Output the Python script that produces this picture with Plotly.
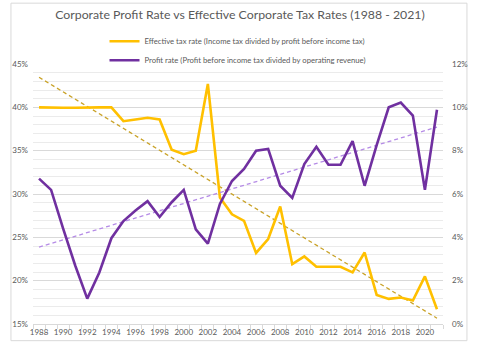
import numpy as np
import plotly.graph_objects as go

years = list(range(1988, 2022))
tax_rate = [40.0, 39.95, 39.95, 39.95, 40.0, 40.0, 40.0, 38.4, 38.6, 38.8, 38.6,
            35.1, 34.6, 35.0, 42.7, 29.6, 27.65, 26.9, 23.2, 24.8, 28.55,
            21.9, 22.8, 21.6, 21.6, 21.6, 20.96, 23.25, 18.36, 17.9, 18.06,
            17.7, 20.5, 16.7]
profit_rate = [6.71, 6.19, 4.4, 2.7, 1.17, 2.38, 3.96, 4.75, 5.24, 5.67, 4.94,
               5.62, 6.19, 4.37, 3.71, 5.54, 6.6, 7.16, 8.0, 8.08, 6.38,
               5.82, 7.38, 8.18, 7.35, 7.35, 8.44, 6.38, 8.26, 10.0, 10.22,
               9.62, 6.19, 9.89]
tax_name = "Effective tax rate (Income tax divided by profit before income tax)"
profit_name = "Profit rate (Profit before income tax divided by operating revenue)"
title_text = "Corporate Profit Rate vs Effective Corporate Tax Rates (1988 - 2021)"

yrs = np.array(years, dtype=float)
tax_fit = np.polyval(np.polyfit(yrs, tax_rate, 1), yrs)
profit_fit = np.polyval(np.polyfit(yrs, profit_rate, 1), yrs)

font = "Lato"
grey = "#595959"

fig = go.Figure()
fig.add_trace(go.Scatter(x=years, y=tax_fit, mode="lines", showlegend=False,
                         line=dict(color="#C9A227", width=1.3, dash="4px,3px"), hoverinfo="skip"))
fig.add_trace(go.Scatter(x=years, y=profit_fit, mode="lines", showlegend=False, yaxis="y2",
                         line=dict(color="#B58BE6", width=1.3, dash="4px,3px"), hoverinfo="skip"))
fig.add_trace(go.Scatter(x=years, y=tax_rate, mode="lines", name=tax_name,
                         line=dict(color="#FFC000", width=2.6)))
fig.add_trace(go.Scatter(x=years, y=profit_rate, mode="lines", name=profit_name, yaxis="y2",
                         line=dict(color="#7030A0", width=2.6)))

W, H = 480, 349
ml, mr, mt, mb = 25, 27, 64, 20
pw, ph = W - ml - mr, H - mt - mb

fig.update_layout(
    width=W, height=H,
    margin=dict(l=ml, r=mr, t=mt, b=mb),
    paper_bgcolor="white", plot_bgcolor="white",
    font=dict(family=font, color=grey, size=8),
    title=dict(text=title_text, x=0.5, xanchor="center", y=1 - 15 / H, yanchor="middle",
               font=dict(family=font, size=12.3, color=grey)),
    legend=dict(orientation="v", x=0.5, xanchor="center", y=1 + (mt - 26) / ph, yanchor="top",
                font=dict(family=font, size=7.7, color=grey), tracegroupgap=0,
                itemwidth=30, bgcolor="rgba(0,0,0,0)"),
    xaxis=dict(range=[1987.5, 2021.5], tickmode="array", tickvals=years[::2],
               showgrid=False, showline=True, linecolor="#D9D9D9", linewidth=1,
               ticks="", tickfont=dict(size=8, color=grey),
               minor=dict(tickmode="linear", tick0=1987.5, dtick=1, ticks="outside",
                          ticklen=4, tickcolor="#D9D9D9", showgrid=False)),
    yaxis=dict(range=[15, 45], dtick=5, ticksuffix="%", showgrid=True, gridcolor="#D9D9D9",
               gridwidth=1, zeroline=False, showline=False, ticks="",
               tickfont=dict(size=8, color=grey), ticklabelstandoff=4,
               minor=dict(dtick=1, showgrid=True, gridcolor="#EBEBEB", gridwidth=1)),
    yaxis2=dict(range=[0, 12], dtick=2, ticksuffix="%", overlaying="y", side="right",
                showgrid=False, zeroline=False, showline=False, ticks="",
                tickfont=dict(size=8, color=grey), ticklabelstandoff=8),
    hovermode=False,
    shapes=[dict(type="rect", xref="paper", yref="paper",
                 x0=(2 - ml) / pw, x1=(W - 2 - ml) / pw,
                 y0=-(mb - 3) / ph, y1=1 + (mt - 2) / ph,
                 line=dict(color="#D9D9D9", width=1), layer="below")],
)

fig.write_html("out.html")
